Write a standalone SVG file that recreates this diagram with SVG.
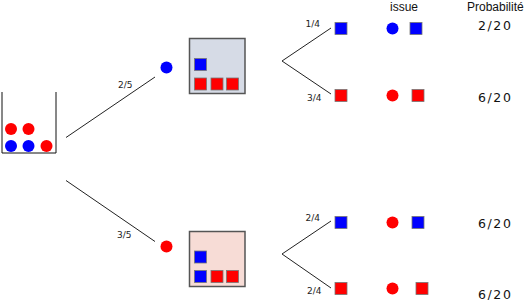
<svg xmlns="http://www.w3.org/2000/svg" width="528" height="300" viewBox="0 0 528 300">
<style>
.ln{stroke:#222;stroke-width:1;fill:none}
.b{fill:#0000ff}
.r{fill:#ff0000}
.sq{stroke:#777;stroke-width:0.8}
.box{stroke:#555;stroke-width:1.5}
.f{font-family:"DejaVu Sans",sans-serif;font-size:9px;fill:#222}
.t{font-family:"Liberation Sans",Arial,sans-serif;font-size:12px;fill:#111}
.p{font-family:"DejaVu Sans",sans-serif;font-size:12.5px;fill:#111;letter-spacing:1.6px}
</style>
<rect width="528" height="300" fill="#fff"/>
<g id="connectors">
<line class="ln" x1="66" y1="137.5" x2="155" y2="77"/>
<line class="ln" x1="66" y1="180.5" x2="155" y2="241.5"/>
<line class="ln" x1="282" y1="61" x2="331" y2="28"/>
<line class="ln" x1="282" y1="61" x2="331" y2="94"/>
<line class="ln" x1="282" y1="254" x2="331" y2="221"/>
<line class="ln" x1="282" y1="254" x2="331" y2="288"/>
<text class="f" x="118" y="88">2/5</text>
<text class="f" x="117" y="237.5">3/5</text>
<text class="f" x="305.5" y="27">1/4</text>
<text class="f" x="307" y="100.5">3/4</text>
<text class="f" x="305.5" y="220.5">2/4</text>
<text class="f" x="307" y="293.5">2/4</text>
</g>
<g id="urn">
<path d="M2,92 V153 H56 V92" fill="none" stroke="#111" stroke-width="1"/>
<circle class="r" cx="11" cy="129" r="6"/>
<circle class="r" cx="28.5" cy="129" r="6"/>
<circle class="b" cx="11" cy="146" r="6"/>
<circle class="b" cx="28.5" cy="146" r="6"/>
<circle class="r" cx="46.5" cy="146" r="6"/>
</g>
<g id="draw1-blue">
<circle class="b" cx="166.5" cy="67.5" r="6"/>
</g>
<g id="draw1-red">
<circle class="r" cx="166.5" cy="246.5" r="6"/>
</g>
<g id="box-blue">
<rect class="box" x="189.5" y="38.5" width="55.5" height="55" fill="#d6dbe6"/>
<rect class="b sq" x="194.5" y="58.5" width="12" height="12"/>
<rect class="r sq" x="194.5" y="78" width="12" height="12"/>
<rect class="r sq" x="211" y="78" width="12" height="12"/>
<rect class="r sq" x="226.5" y="78" width="12" height="12"/>
</g>
<g id="box-red">
<rect class="box" x="189.5" y="231.5" width="55.5" height="55" fill="#f7dcd6"/>
<rect class="b sq" x="194.5" y="251" width="12" height="12"/>
<rect class="b sq" x="194.5" y="270.5" width="12" height="12"/>
<rect class="r sq" x="211" y="270.5" width="12" height="12"/>
<rect class="r sq" x="226.5" y="270.5" width="12" height="12"/>
</g>
<g id="leaf1">
<rect class="b sq" x="335" y="22.5" width="12" height="12"/>
</g>
<g id="leaf2">
<rect class="r sq" x="335" y="89.5" width="12" height="12"/>
</g>
<g id="leaf3">
<rect class="b sq" x="335" y="216.5" width="12" height="12"/>
</g>
<g id="leaf4">
<rect class="r sq" x="335" y="282.5" width="12" height="12"/>
</g>
<g id="header">
<text class="t" x="390" y="10.5">issue</text>
<text class="t" x="467" y="10.5">Probabilité</text>
</g>
<g id="outcome1">
<circle class="b" cx="392.5" cy="28.5" r="6"/>
<rect class="b sq" x="410" y="22.5" width="12" height="12"/>
<text class="p" x="478" y="30">2/20</text>
</g>
<g id="outcome2">
<circle class="r" cx="392.5" cy="95.5" r="6"/>
<rect class="r sq" x="412" y="89.5" width="12" height="12"/>
<text class="p" x="478" y="101.5">6/20</text>
</g>
<g id="outcome3">
<circle class="r" cx="392.5" cy="222.5" r="6"/>
<rect class="b sq" x="412" y="216.5" width="12" height="12"/>
<text class="p" x="478" y="227.5">6/20</text>
</g>
<g id="outcome4">
<circle class="r" cx="392.5" cy="288.5" r="6"/>
<rect class="r sq" x="416" y="282.5" width="12" height="12"/>
<text class="p" x="478" y="298.5">6/20</text>
</g>
</svg>
